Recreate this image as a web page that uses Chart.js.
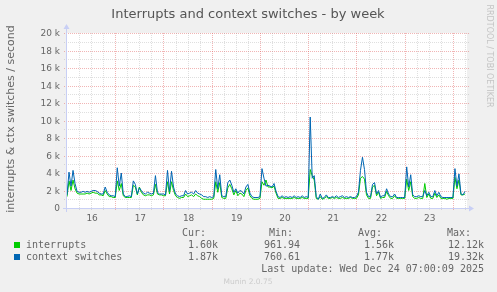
<!DOCTYPE html>
<html>
<head>
<meta charset="utf-8">
<script src="https://cdn.jsdelivr.net/npm/chart.js@4.4.1/dist/chart.umd.min.js"></script>
<style>
  html, body { margin: 0; padding: 0; background: #f0f0f0; }
  canvas { display: block; }
</style>
</head>
<body>
<canvas id="chart" width="497" height="292"></canvas>
<script>
// Labels
const title = "Interrupts and context switches - by week";
const yTitle = "interrupts & ctx switches / second";
const dayLabels = ["16", "17", "18", "19", "20", "21", "22", "23"];
const yTickValues = [0, 2, 4, 6, 8, 10, 12, 14, 16, 18, 20];

// Hourly values (thousands per second), from Dec 16 00:00 to Dec 24 06:00
const ctxSwitches = [
  1.5, 4.1, 2.5, 4.3, 2.8, 1.9, 1.8, 1.8, 1.9, 1.8, 1.9, 1.8, 1.9, 2.0, 2.0, 1.9, 1.7, 1.6, 1.6, 2.4, 1.8, 1.5, 1.4, 1.4,
  1.3, 4.6, 2.5, 4.0, 1.6, 1.3, 1.3, 1.4, 1.3, 3.1, 2.7, 1.6, 2.3, 2.0, 1.7, 1.6, 1.8, 1.7, 1.6, 1.7, 3.7, 1.8, 1.6, 1.6,
  1.6, 1.5, 4.3, 1.9, 4.2, 2.4, 1.6, 1.4, 1.3, 1.4, 1.4, 2.0, 1.6, 1.7, 1.8, 1.6, 2.0, 1.7, 1.6, 1.5, 1.3, 1.3, 1.2, 1.3,
  1.2, 1.3, 4.4, 2.2, 3.8, 1.4, 1.3, 1.3, 2.9, 3.2, 2.6, 1.8, 2.2, 1.7, 2.0, 1.9, 1.6, 2.4, 2.7, 1.7, 1.3, 1.2, 1.2, 1.2,
  1.3, 4.5, 3.4, 2.5, 2.6, 2.5, 2.4, 2.8, 1.9, 1.3, 1.2, 1.4, 1.2, 1.3, 1.2, 1.3, 1.2, 1.4, 1.2, 1.3, 1.2, 1.4, 1.2, 1.3,
  1.2, 10.4, 3.4, 3.7, 1.3, 1.0, 1.6, 1.1, 1.2, 1.5, 1.2, 1.2, 1.3, 1.2, 1.4, 1.2, 1.3, 1.4, 1.2, 1.3, 1.2, 1.3, 1.2, 1.2,
  1.3, 1.8, 4.3, 5.8, 4.4, 1.8, 1.3, 1.3, 2.7, 2.9, 1.6, 2.0, 1.2, 1.4, 1.4, 2.2, 1.6, 1.3, 1.3, 1.6, 1.2, 1.2, 1.2, 1.2,
  1.2, 4.7, 2.4, 3.8, 1.5, 1.3, 1.3, 1.4, 1.3, 1.3, 2.0, 1.4, 1.8, 1.3, 1.3, 2.0, 1.4, 1.8, 1.3, 1.2, 1.2, 1.2, 1.2, 1.2,
  1.2, 4.5, 2.5, 3.9, 1.6, 1.5, 1.9
];
const interrupts = [
  1.3, 3.1, 2.0, 3.2, 2.2, 1.7, 1.6, 1.6, 1.6, 1.6, 1.7, 1.6, 1.7, 1.8, 1.7, 1.7, 1.5, 1.5, 1.4, 2.0, 1.6, 1.3, 1.3, 1.2,
  1.2, 3.1, 2.0, 2.8, 1.4, 1.2, 1.2, 1.2, 1.2, 2.6, 2.4, 1.5, 2.4, 1.8, 1.5, 1.4, 1.5, 1.5, 1.4, 1.5, 2.7, 1.6, 1.5, 1.5,
  1.4, 1.4, 3.0, 1.6, 3.0, 2.0, 1.4, 1.2, 1.1, 1.2, 1.2, 1.6, 1.3, 1.4, 1.5, 1.3, 1.6, 1.4, 1.3, 1.1, 1.0, 1.0, 1.0, 1.0,
  1.0, 1.1, 3.0, 1.8, 2.9, 1.2, 1.1, 1.1, 2.3, 2.7, 2.2, 1.5, 2.0, 1.4, 1.7, 1.6, 1.3, 2.0, 2.3, 1.4, 1.1, 1.0, 1.0, 1.0,
  1.1, 3.0, 2.6, 3.2, 2.4, 2.4, 2.3, 2.5, 1.7, 1.1, 1.1, 1.2, 1.1, 1.1, 1.1, 1.1, 1.1, 1.2, 1.1, 1.1, 1.1, 1.2, 1.1, 1.1,
  1.1, 4.4, 3.7, 3.2, 1.1, 1.0, 1.3, 1.0, 1.1, 1.3, 1.1, 1.1, 1.2, 1.1, 1.2, 1.1, 1.1, 1.2, 1.1, 1.1, 1.1, 1.2, 1.1, 1.1,
  1.1, 1.5, 3.4, 3.6, 3.3, 1.5, 1.1, 1.1, 2.4, 2.6, 1.4, 1.8, 1.1, 1.2, 1.2, 1.9, 1.4, 1.1, 1.1, 1.4, 1.1, 1.1, 1.1, 1.1,
  1.1, 3.3, 2.0, 3.0, 1.3, 1.1, 1.1, 1.2, 1.1, 1.1, 2.8, 1.2, 1.6, 1.1, 1.1, 1.7, 1.2, 1.5, 1.1, 1.1, 1.1, 1.0, 1.1, 1.1,
  1.1, 3.5, 2.2, 3.2, 1.5, 1.5, 1.6
];

// Legend table
const seriesNames = ["interrupts", "context switches"];
const seriesColors = ["#00cc00", "#0066b3"];
const curValues = ["1.60k", "1.87k"];
const minValues = ["961.94", "760.61"];
const avgValues = ["1.56k", "1.77k"];
const maxValues = ["12.12k", "19.32k"];
const lastUpdate = "Last update: Wed Dec 24 07:00:09 2025";

const FONT = "DejaVu Sans";
const MONO = "DejaVu Sans Mono";
const MAJOR = "rgba(225,90,90,0.45)";
const MINOR = "rgba(150,150,150,0.3)";
const AXIS = "#c8cff5";

function toPoints(arr) {
  return arr.map((v, i) => ({ x: i, y: v }));
}

const muninPlugin = {
  id: "munin",
  beforeDraw(chart) {
    const { ctx, chartArea: a } = chart;
    const xs = chart.scales.x, ys = chart.scales.y;
    ctx.save();
    ctx.fillStyle = "#f0f0f0";
    ctx.fillRect(0, 0, chart.width, chart.height);
    ctx.fillStyle = "#ffffff";
    ctx.fillRect(a.left, a.top, a.right - a.left, a.bottom - a.top);

    ctx.lineWidth = 1;
    ctx.setLineDash([1, 1]);
    // horizontal grid, every 1k (red every 2k)
    for (let v = 1; v <= 20; v++) {
      const y = Math.round(ys.getPixelForValue(v)) + 0.5;
      ctx.strokeStyle = v % 2 === 0 ? MAJOR : MINOR;
      ctx.beginPath();
      ctx.moveTo(a.left - 3, y);
      ctx.lineTo(a.right + 2, y);
      ctx.stroke();
    }
    // vertical grid, every 6 h (red at midnight)
    for (let h = 6; h < 199; h += 6) {
      const x = Math.round(xs.getPixelForValue(h)) + 0.5;
      ctx.strokeStyle = h % 24 === 0 ? MAJOR : MINOR;
      ctx.beginPath();
      ctx.moveTo(x, a.top);
      ctx.lineTo(x, a.bottom + 3);
      ctx.stroke();
    }
    ctx.restore();
  },
  afterDraw(chart) {
    const { ctx, chartArea: a } = chart;
    const xs = chart.scales.x, ys = chart.scales.y;
    ctx.save();

    // axes with arrows
    const ax = Math.round(a.left) - 0.5;
    const ay = Math.round(a.bottom) + 0.5;
    ctx.strokeStyle = AXIS;
    ctx.lineWidth = 1;
    ctx.beginPath();
    ctx.moveTo(a.left - 4, ay);
    ctx.lineTo(a.right + 3, ay);
    ctx.moveTo(ax, a.bottom + 4);
    ctx.lineTo(ax, a.top - 5);
    ctx.stroke();
    ctx.fillStyle = AXIS;
    ctx.beginPath();
    ctx.moveTo(a.right + 2, ay - 3);
    ctx.lineTo(a.right + 7, ay);
    ctx.lineTo(a.right + 2, ay + 3);
    ctx.closePath();
    ctx.fill();
    ctx.beginPath();
    ctx.moveTo(ax - 3, a.top - 4);
    ctx.lineTo(ax, a.top - 9);
    ctx.lineTo(ax + 3, a.top - 4);
    ctx.closePath();
    ctx.fill();

    // title
    ctx.fillStyle = "#555555";
    ctx.font = "13px '" + FONT + "'";
    ctx.textAlign = "center";
    ctx.textBaseline = "alphabetic";
    ctx.fillText(title, 248, 18);

    // y tick labels
    ctx.fillStyle = "#666666";
    ctx.font = "9px '" + FONT + "'";
    ctx.textAlign = "right";
    yTickValues.forEach(v => {
      const y = ys.getPixelForValue(v);
      ctx.fillText(v === 0 ? "0" : v + " k", 60, y + 3.3);
    });

    // x labels at noon of each day
    ctx.textAlign = "center";
    dayLabels.forEach((d, i) => {
      const x = xs.getPixelForValue(i * 24 + 12);
      ctx.fillText(d, x + 1, 221);
    });

    // y axis title
    ctx.save();
    ctx.translate(14, 119);
    ctx.rotate(-Math.PI / 2);
    ctx.font = "11px '" + FONT + "'";
    ctx.textAlign = "center";
    ctx.fillText(yTitle, 0, 0);
    ctx.restore();

    // watermark
    ctx.save();
    ctx.translate(487, 56);
    ctx.rotate(Math.PI / 2);
    ctx.fillStyle = "#c4c4c4";
    ctx.font = "8px '" + FONT + "'";
    ctx.textAlign = "center";
    ctx.fillText("RRDTOOL / TOBI OETIKER", 0, 0);
    ctx.restore();

    // legend table
    ctx.font = "10px '" + MONO + "'";
    ctx.fillStyle = "#666666";
    ctx.textAlign = "left";
    ctx.fillText("Cur:", 182, 236);
    ctx.fillText("Min:", 269, 236);
    ctx.fillText("Avg:", 358, 236);
    ctx.fillText("Max:", 447, 236);
    seriesNames.forEach((name, i) => {
      const base = 248 + i * 12;
      ctx.fillStyle = seriesColors[i];
      ctx.fillRect(14, base - 6, 6, 6);
      ctx.fillStyle = "#666666";
      ctx.textAlign = "left";
      ctx.fillText(name, 26, base);
      ctx.textAlign = "right";
      ctx.fillText(curValues[i], 218, base);
      ctx.fillText(minValues[i], 300, base);
      ctx.fillText(avgValues[i], 394, base);
      ctx.fillText(maxValues[i], 484, base);
    });
    ctx.textAlign = "right";
    ctx.fillText(lastUpdate, 484, 272);

    ctx.fillStyle = "#cccccc";
    ctx.font = "7.5px '" + FONT + "'";
    ctx.textAlign = "center";
    ctx.fillText("Munin 2.0.75", 248, 284);

    ctx.restore();
  }
};

new Chart(document.getElementById("chart"), {
  type: "line",
  data: {
    datasets: [
      {
        label: seriesNames[1],
        data: toPoints(ctxSwitches),
        borderColor: seriesColors[1],
        borderWidth: 1,
        pointRadius: 0,
        tension: 0
      },
      {
        label: seriesNames[0],
        data: toPoints(interrupts),
        borderColor: seriesColors[0],
        borderWidth: 1,
        pointRadius: 0,
        tension: 0
      }
    ]
  },
  options: {
    responsive: false,
    animation: false,
    layout: { padding: { left: 67, right: 30, top: 33, bottom: 84 } },
    plugins: { legend: { display: false }, tooltip: { enabled: false } },
    scales: {
      x: {
        type: "linear", min: 0, max: 199,
        ticks: { display: false },
        grid: { display: false, drawTicks: false },
        border: { display: false }
      },
      y: {
        min: 0, max: 20,
        ticks: { display: false },
        grid: { display: false, drawTicks: false },
        border: { display: false }
      }
    }
  },
  plugins: [muninPlugin]
});
</script>
</body>
</html>
